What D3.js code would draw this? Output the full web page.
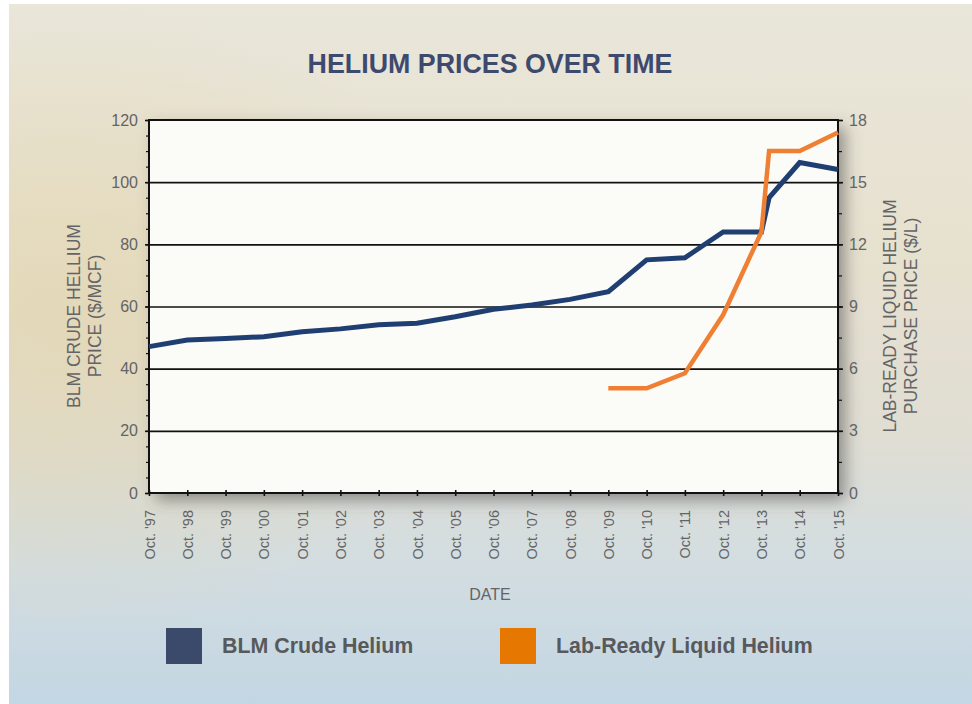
<!DOCTYPE html>
<html>
<head>
<meta charset="utf-8">
<script src="https://cdn.jsdelivr.net/npm/d3@7"></script>
<style>
  html, body { margin: 0; padding: 0; background: #fff; }
  svg { display: block; font-family: "Liberation Sans", Arial, sans-serif; }
</style>
</head>
<body>
<svg id="chart" width="972" height="704"></svg>
<script>
// tick labels along the date axis (one per October)
let dateTicks = [1997.75, 1998.75, 1999.75, 2000.75, 2001.75, 2002.75, 2003.75, 2004.75, 2005.75,
    2006.75, 2007.75, 2008.75, 2009.75, 2010.75, 2011.75, 2012.75, 2013.75, 2014.75, 2015.75];
let dateLabels = ["Oct. '97", "Oct. '98", "Oct. '99", "Oct. '00", "Oct. '01", "Oct. '02", "Oct. '03",
    "Oct. '04", "Oct. '05", "Oct. '06", "Oct. '07", "Oct. '08", "Oct. '09", "Oct. '10", "Oct. '11",
    "Oct. '12", "Oct. '13", "Oct. '14", "Oct. '15"];

// BLM crude helium, $/MCF (left axis)
let blmDates = [1997.75, 1998.75, 1999.75, 2000.75, 2001.75, 2002.75, 2003.75, 2004.75, 2005.75, 2006.75,
    2007.75, 2008.75, 2009.75, 2010.75, 2011.75, 2012.75, 2013.75, 2013.95, 2014.75, 2015.75];
let blmPrices = [47.1, 49.2, 49.7, 50.3, 51.9, 52.8, 54.1, 54.6, 56.7, 59.1,
    60.5, 62.3, 64.8, 75.0, 75.7, 84.0, 84.0, 95.0, 106.3, 104.1];

// lab-ready liquid helium, $/L (right axis)
let labDates = [2009.75, 2010.75, 2011.75, 2012.75, 2013.75, 2013.95, 2014.75, 2015.75];
let labPrices = [5.05, 5.05, 5.78, 8.6, 12.6, 16.5, 16.5, 17.4];

let leftTicks = [0, 20, 40, 60, 80, 100, 120];
let rightTicks = [0, 3, 6, 9, 12, 15, 18];

let svg = d3.select('#chart');
let margin = {top: 120, right: 134, bottom: 211, left: 149};
let width = 972 - margin.left - margin.right, height = 704 - margin.top - margin.bottom;

let defs = svg.append('defs');
let bgGrad = defs.append('linearGradient')
    .attr('id', 'bg').attr('x1', 0).attr('y1', 0).attr('x2', 0).attr('y2', 1);
[[0, '#e9e6da'], [0.35, '#e7e1cf'], [0.62, '#e0ddd3'], [0.8, '#d3dde1'], [1, '#c3d6e3']]
    .forEach(s => bgGrad.append('stop').attr('offset', s[0]).attr('stop-color', s[1]));
let warm = defs.append('radialGradient')
    .attr('id', 'warm').attr('cx', 0.05).attr('cy', 0.45).attr('r', 0.45);
warm.append('stop').attr('offset', 0).attr('stop-color', '#e2d3a8').attr('stop-opacity', 0.6);
warm.append('stop').attr('offset', 1).attr('stop-color', '#e2d3a8').attr('stop-opacity', 0);
let shadow = defs.append('filter').attr('id', 'shadow')
    .attr('x', -0.1).attr('y', -0.1).attr('width', 1.3).attr('height', 1.3);
shadow.append('feDropShadow').attr('dx', 7).attr('dy', 7).attr('stdDeviation', 8)
    .attr('flood-color', '#4a4a4a').attr('flood-opacity', 0.55);

// background card
svg.append('rect').attr('x', 9).attr('y', 4).attr('width', 963).attr('height', 700).attr('fill', 'url(#bg)');
svg.append('rect').attr('x', 9).attr('y', 4).attr('width', 963).attr('height', 700).attr('fill', 'url(#warm)');

svg.append('text')
    .attr('x', 490).attr('y', 73)
    .attr('text-anchor', 'middle')
    .attr('font-size', 26.8).attr('font-weight', 'bold')
    .attr('fill', '#3d4a6d')
    .text('HELIUM PRICES OVER TIME');

let g = svg.append('g').attr('transform', `translate(${margin.left}, ${margin.top})`);

let x = d3.scaleLinear().domain([1997.75, 2015.75]).range([0, width]);
let yLeft = d3.scaleLinear().domain([0, 120]).range([height, 0]);
let yRight = d3.scaleLinear().domain([0, 18]).range([height, 0]);

// plot background with shadow
g.append('rect').attr('width', width).attr('height', height)
    .attr('fill', '#fbfbf8').attr('filter', 'url(#shadow)');

// gridlines
g.append('g')
    .call(d3.axisLeft(yLeft).tickValues(leftTicks.slice(1, -1)).tickSize(-width).tickFormat(''))
    .call(a => a.select('.domain').remove())
    .selectAll('line').attr('stroke', '#111').attr('stroke-width', 1.6);

// minor ticks
g.append('g')
    .call(d3.axisLeft(yLeft).tickValues(d3.range(0, 121, 5)).tickSize(3).tickFormat(''))
    .call(a => a.select('.domain').remove())
    .selectAll('line').attr('stroke', '#111').attr('stroke-width', 1.2);
g.append('g').attr('transform', `translate(${width}, 0)`)
    .call(d3.axisRight(yRight).tickValues(d3.range(0, 18.1, 1.5)).tickSize(4).tickFormat(''))
    .call(a => a.select('.domain').remove())
    .selectAll('line').attr('stroke', '#111').attr('stroke-width', 1.2);

// left axis
let leftAxis = g.append('g')
    .call(d3.axisLeft(yLeft).tickValues(leftTicks).tickSize(4).tickPadding(7));
leftAxis.select('.domain').remove();
leftAxis.selectAll('line').attr('stroke', '#111').attr('stroke-width', 1.6);
leftAxis.selectAll('text').attr('font-size', 16).attr('fill', '#636466')
    .attr('font-family', '"Liberation Sans", Arial, sans-serif');

// right axis
let rightAxis = g.append('g').attr('transform', `translate(${width}, 0)`)
    .call(d3.axisRight(yRight).tickValues(rightTicks).tickSize(5).tickPadding(6));
rightAxis.select('.domain').remove();
rightAxis.selectAll('line').attr('stroke', '#111').attr('stroke-width', 1.6);
rightAxis.selectAll('text').attr('font-size', 16).attr('fill', '#636466')
    .attr('font-family', '"Liberation Sans", Arial, sans-serif');

// bottom axis
let bottomAxis = g.append('g').attr('transform', `translate(0, ${height})`)
    .call(d3.axisBottom(x).tickValues(dateTicks).tickSize(3)
        .tickFormat((d, i) => dateLabels[i]));
bottomAxis.select('.domain').remove();
bottomAxis.selectAll('line').attr('stroke', '#111').attr('stroke-width', 1.6).attr('y1', -3);
bottomAxis.selectAll('text')
    .attr('font-size', 14.5).attr('fill', '#636466')
    .attr('font-family', '"Liberation Sans", Arial, sans-serif')
    .attr('text-anchor', 'end')
    .attr('transform', 'rotate(-90)')
    .attr('x', -17).attr('y', 0).attr('dy', '0.35em');

// frame
g.append('rect').attr('width', width).attr('height', height)
    .attr('fill', 'none').attr('stroke', '#111').attr('stroke-width', 2);

// lines
let blmLine = d3.line()
    .x((d, i) => x(blmDates[i]))
    .y(d => yLeft(d));
let labLine = d3.line()
    .x((d, i) => x(labDates[i]))
    .y(d => yRight(d));

g.append('path').datum(blmPrices)
    .attr('fill', 'none').attr('stroke', '#1f3e72').attr('stroke-width', 5)
    .attr('d', blmLine);
g.append('path').datum(labPrices)
    .attr('fill', 'none').attr('stroke', '#ef7f32').attr('stroke-width', 4.5)
    .attr('d', labLine);

// axis titles
function axisTitle(lines, cx, cy) {
    let t = svg.append('text')
        .attr('transform', `translate(${cx}, ${cy}) rotate(-90)`)
        .attr('text-anchor', 'middle')
        .attr('font-size', 17.5).attr('fill', '#636466');
    lines.forEach((line, i) => {
        t.append('tspan').attr('x', 0).attr('y', i * 21).text(line);
    });
}
axisTitle(['BLM CRUDE HELLIUM', 'PRICE ($/MCF)'], 80, 316);
axisTitle(['LAB-READY LIQUID HELIUM', 'PURCHASE PRICE ($/L)'], 896, 316);

svg.append('text')
    .attr('x', 490).attr('y', 600)
    .attr('text-anchor', 'middle')
    .attr('font-size', 16).attr('fill', '#636466')
    .text('DATE');

// legend
let legendItems = [
    {name: 'BLM Crude Helium', color: '#3b4a6b', x: 166},
    {name: 'Lab-Ready Liquid Helium', color: '#e67700', x: 500}
];
legendItems.forEach(item => {
    svg.append('rect').attr('x', item.x).attr('y', 628).attr('width', 36).attr('height', 36)
        .attr('fill', item.color);
    svg.append('text').attr('x', item.x + 56).attr('y', 653)
        .attr('font-size', 21.4).attr('font-weight', 'bold').attr('fill', '#58595b')
        .text(item.name);
});
</script>
</body>
</html>
